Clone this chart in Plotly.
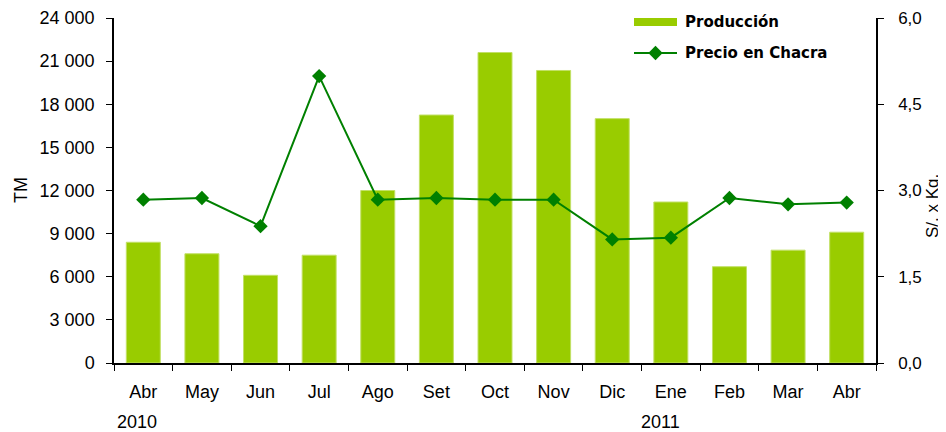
import plotly.graph_objects as go

cat_ids = ["Abr-2010", "May-2010", "Jun-2010", "Jul-2010", "Ago-2010", "Set-2010", "Oct-2010",
           "Nov-2010", "Dic-2010", "Ene-2011", "Feb-2011", "Mar-2011", "Abr-2011"]
months = ["Abr", "May", "Jun", "Jul", "Ago", "Set", "Oct", "Nov", "Dic", "Ene", "Feb", "Mar", "Abr"]
produccion = [8400, 7600, 6100, 7500, 12000, 17250, 21600, 20350, 17000, 11200, 6700, 7850, 9100]
precio = [2.84, 2.87, 2.38, 4.99, 2.84, 2.87, 2.84, 2.84, 2.15, 2.18, 2.87, 2.76, 2.79]
years = ["2010", "2011"]
year_pos = ["Abr-2010", "Ene-2011"]

FONT = "Liberation Sans, Arial, sans-serif"
BAR = "#99CC00"
LINE = "#008000"

# page body has an 8px margin: size the figure so that it fills the 946x432 window
OFF = 8
FW, FH = 946 - OFF, 432 - OFF
L, R, T, B = 114, 876, 18, 363  # plot area in window pixels
W, H = R - L, B - T


def px(x):
    return (x - L) / W


def py(y):
    return (B - y) / H


fig = go.Figure()
fig.add_trace(go.Bar(x=cat_ids, y=produccion, name="Producción",
                     marker=dict(color=BAR, line=dict(color="#C2E066", width=1)),
                     width=0.58, yaxis="y"))
fig.add_trace(go.Scatter(x=cat_ids, y=precio, name="Precio en Chacra", mode="lines+markers",
                         line=dict(color=LINE, width=2), marker=dict(symbol="diamond", size=11, color=LINE),
                         yaxis="y2"))

fig.update_layout(
    width=FW, height=FH,
    margin=dict(l=L - OFF, r=FW - (R - OFF), t=T - OFF, b=FH - (B - OFF), pad=0),
    paper_bgcolor="white", plot_bgcolor="white",
    separators=", ",
    showlegend=False,
    font=dict(family=FONT, size=18, color="#000"),
    xaxis=dict(type="category", tickvals=cat_ids, ticktext=months, tickson="boundaries",
               ticks="outside", ticklen=6, tickcolor="#000", showline=True, linecolor="#000", linewidth=1.5,
               ticklabelstandoff=12, range=[-0.5, 12.5], tickfont=dict(size=18), automargin=False),
    yaxis=dict(range=[0, 24000], dtick=3000, tickformat=",d", ticks="outside", ticklen=6, tickcolor="#000",
               showline=True, linecolor="#000", linewidth=1.5, showgrid=False, zeroline=False,
               ticklabelstandoff=8, automargin=False),
    yaxis2=dict(range=[0, 6], dtick=1.5, tickformat=".1f", overlaying="y", side="right", ticks="outside",
                ticklen=6, tickcolor="#000", showline=True, linecolor="#000", linewidth=1.5, showgrid=False,
                zeroline=False, ticklabelstandoff=11, automargin=False, tickfont=dict(size=17)),
    xaxis2=dict(range=[0, 1], overlaying="x", visible=False),
    yaxis3=dict(range=[0, 1], overlaying="y", visible=False),
)

# axis titles
fig.add_annotation(x=px(21), y=py(190), xref="paper", yref="paper", text="TM", textangle=-90,
                   showarrow=False, xanchor="center", yanchor="middle", font=dict(size=18))
fig.add_annotation(x=px(932), y=py(206), xref="paper", yref="paper", text="S/. x Kg.", textangle=-90,
                   showarrow=False, xanchor="center", yanchor="middle", font=dict(size=17))

for yr, pos, xs in zip(years, year_pos, [-6, -10]):
    fig.add_annotation(x=pos, y=0, yref="paper", yshift=-59, xshift=xs, text=yr, showarrow=False,
                       font=dict(size=18, family=FONT), xanchor="center", yanchor="middle")

# custom legend
fig.add_shape(type="rect", xref="paper", yref="paper", x0=px(634), x1=px(677),
              y0=py(26), y1=py(18), fillcolor=BAR, line=dict(width=0))
fig.add_shape(type="line", xref="paper", yref="paper", x0=px(634), x1=px(677),
              y0=py(53), y1=py(53), line=dict(color=LINE, width=2))
fig.add_trace(go.Scatter(x=[px(655.5)], y=[py(53)], xaxis="x2", yaxis="y3", mode="markers",
                         marker=dict(symbol="diamond", size=11, color=LINE), hoverinfo="skip", showlegend=False))
fig.add_annotation(x=px(683), y=py(22), xref="paper", yref="paper", text="<b>Producción</b>",
                   showarrow=False, xanchor="left", yanchor="middle",
                   font=dict(family="DejaVu Sans", size=15, color="#000"))
fig.add_annotation(x=px(683), y=py(53), xref="paper", yref="paper", text="<b>Precio en Chacra</b>",
                   showarrow=False, xanchor="left", yanchor="middle",
                   font=dict(family="DejaVu Sans", size=15, color="#000"))

fig.write_html("out.html")
